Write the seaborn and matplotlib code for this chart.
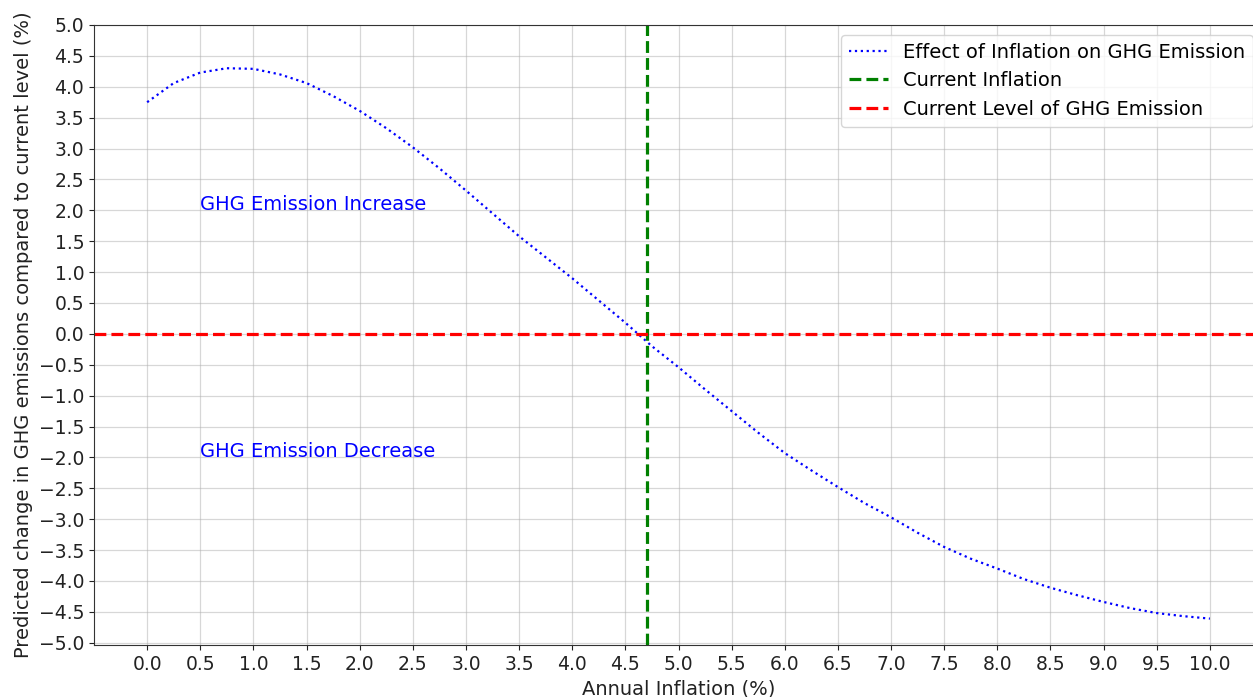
import numpy as np
import pandas as pd
import matplotlib
matplotlib.use("Agg")
import matplotlib.pyplot as plt
import seaborn as sns

# ---- data ----
inflation = [0.0, 0.25, 0.5, 0.75, 1.0, 1.25, 1.5, 1.75, 2.0, 2.25, 2.5, 2.75,
             3.0, 3.25, 3.5, 3.75, 4.0, 4.25, 4.5, 4.75, 5.0, 5.25, 5.5, 5.75,
             6.0, 6.25, 6.5, 6.75, 7.0, 7.25, 7.5, 7.75, 8.0, 8.25, 8.5, 8.75,
             9.0, 9.25, 9.5, 9.75, 10.0]
ghg_change = [3.75, 4.06, 4.23, 4.30, 4.29, 4.20, 4.06, 3.85, 3.61, 3.33, 3.02, 2.68,
              2.32, 1.95, 1.58, 1.24, 0.90, 0.54, 0.18, -0.20, -0.54, -0.90, -1.25, -1.60,
              -1.93, -2.21, -2.48, -2.74, -2.97, -3.22, -3.45, -3.64, -3.80, -3.97, -4.11, -4.23,
              -4.34, -4.44, -4.52, -4.57, -4.61]
current_inflation = 4.7
current_level = 0.0
x_ticks = [0.0, 0.5, 1.0, 1.5, 2.0, 2.5, 3.0, 3.5, 4.0, 4.5, 5.0, 5.5, 6.0, 6.5,
           7.0, 7.5, 8.0, 8.5, 9.0, 9.5, 10.0]
y_ticks = [-5.0, -4.5, -4.0, -3.5, -3.0, -2.5, -2.0, -1.5, -1.0, -0.5, 0.0,
           0.5, 1.0, 1.5, 2.0, 2.5, 3.0, 3.5, 4.0, 4.5, 5.0]

df = pd.DataFrame({"inflation": inflation, "ghg": ghg_change})

plt.rcParams["font.family"] = ["DejaVu Sans"]

fig = plt.figure(figsize=(12.53, 6.97), dpi=100)
ax = fig.add_axes([94 / 1253, (697 - 645) / 697, (1263 - 94) / 1253, (645 - 25) / 697])

sns.lineplot(data=df, x="inflation", y="ghg", ax=ax, color="blue", linestyle=":",
             linewidth=1.6, label="Effect of Inflation on GHG Emission")
ax.axvline(current_inflation, color="green", linestyle="--", linewidth=2.3,
           label="Current Inflation")
ax.axhline(current_level, color="red", linestyle="--", linewidth=2.3,
           label="Current Level of GHG Emission")

ax.text(0.5, 2.0, "GHG Emission Increase", color="blue", fontsize=14)
ax.text(0.5, -2.0, "GHG Emission Decrease", color="blue", fontsize=14)


def fmt(v):
    s = f"{v:.1f}"
    return s.replace("-", "\u2212")


ax.set_xlim(-0.5, 10.5)
ax.set_ylim(-5.037, 5.0)
ax.set_xticks(x_ticks)
ax.set_yticks(y_ticks)
ax.set_xticklabels([fmt(v) for v in x_ticks])
ax.set_yticklabels([fmt(v) for v in y_ticks])
ax.tick_params(labelsize=13.5, colors="#222222")
for sp in ax.spines.values():
    sp.set_color("#333333")
ax.grid(True, color="#b0b0b0", alpha=0.5, linewidth=0.9)
ax.set_xlabel("Annual Inflation (%)", fontsize=14, color="#222222")
ax.set_ylabel("Predicted change in GHG emissions compared to current level (%)",
              fontsize=14, color="#222222")
ax.legend(loc="upper right", fontsize=14)

fig.savefig("out.png", dpi=100)
